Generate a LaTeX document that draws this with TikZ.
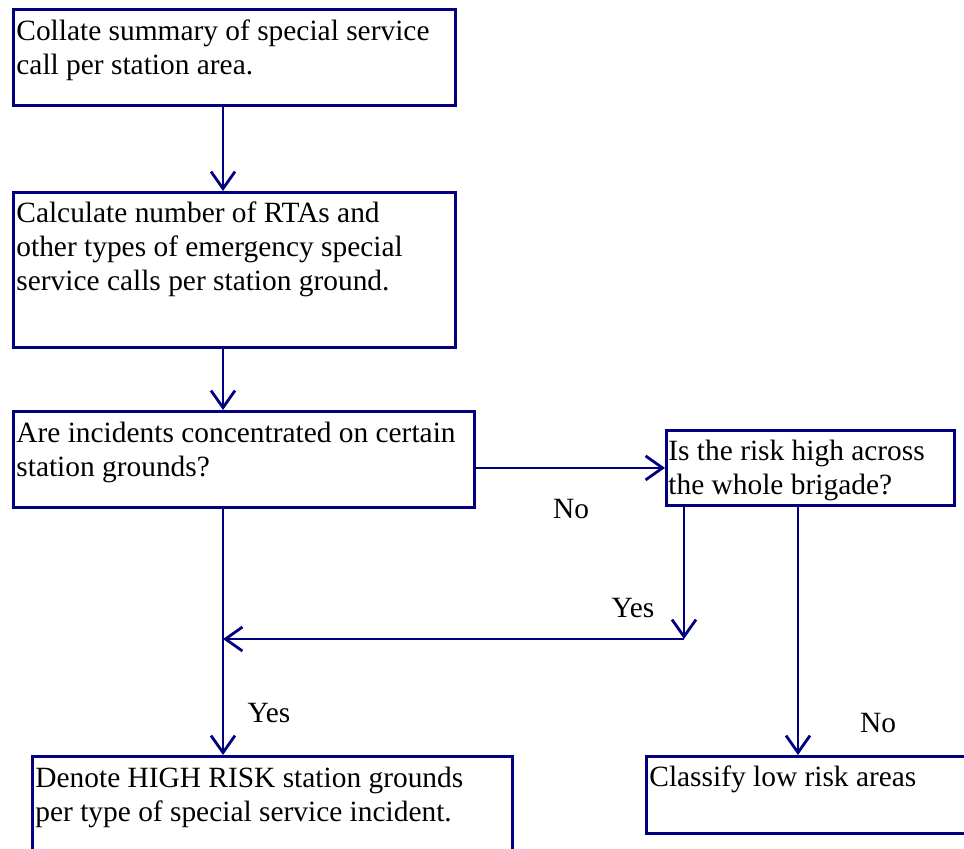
\documentclass[tikz,border=0pt]{standalone}
\usepackage{fontspec}
\setmainfont{Liberation Serif}
\usetikzlibrary{arrows.meta}
\definecolor{flow}{RGB}{0,0,128}
\begin{document}
\begin{tikzpicture}[x=0.5pt,y=-0.5pt,
  box/.style={draw=flow, line width=1.4pt, rectangle, inner sep=0pt, anchor=north west},
  txt/.style={anchor=base west, inner sep=0pt, font=\fontsize{14.7}{17}\selectfont, text=black},
  lbl/.style={anchor=base, inner sep=0pt, font=\fontsize{14.7}{17}\selectfont, text=black},
  arr/.style={draw=flow, line width=1.4pt, -{Straight Barb[length=8.5pt,width=12pt]}}]
\useasboundingbox (0,0) rectangle (964,848);
\clip (0,0) rectangle (964,848);

% process boxes
\node[box, minimum width=221pt, minimum height=48pt]   (b1) at (12,8) {};
\node[box, minimum width=221pt, minimum height=77.5pt] (b2) at (12,191) {};
\node[box, minimum width=230.5pt, minimum height=48pt] (b3) at (12,410) {};
\node[box, minimum width=144pt, minimum height=37.5pt] (b4) at (665,429) {};
\node[box, minimum width=240pt, minimum height=60pt]   (b5) at (31,755) {};
\node[box, minimum width=167.5pt, minimum height=38.5pt] (b6) at (645,755) {};

% box texts
\node[txt] (t1) at ([shift={(4,32)}]b1.north west)
  {\begin{tabular}[t]{@{}l@{}}Collate summary of special service\\call per station area.\end{tabular}};
\node[txt] (t2) at ([shift={(4,31)}]b2.north west)
  {\begin{tabular}[t]{@{}l@{}}Calculate number of RTAs and\\other types of emergency special\\service calls per station ground.\end{tabular}};
\node[txt] (t3) at ([shift={(4,32)}]b3.north west)
  {\begin{tabular}[t]{@{}l@{}}Are incidents concentrated on certain\\station grounds?\end{tabular}};
\node[txt] (t4) at ([shift={(3,31)}]b4.north west)
  {\begin{tabular}[t]{@{}l@{}}Is the risk high across\\the whole brigade?\end{tabular}};
\node[txt] (t5) at ([shift={(4,32)}]b5.north west)
  {\begin{tabular}[t]{@{}l@{}}Denote HIGH RISK station grounds\\per type of special service incident.\end{tabular}};
\node[txt] (t6) at ([shift={(4,31)}]b6.north west)
  {Classify low risk areas};

% connector guide points
\coordinate (spine) at (223,0);
\coordinate (yes) at (684,639);
\coordinate (nocol) at (798,0);

% connectors
\draw[arr] (b1.south -| spine) -- (b2.north -| spine);
\draw[arr] (b2.south -| spine) -- (b3.north -| spine);
\draw[arr] (b3.east |- b4.west) -- (b4.west);
\draw[arr] (b3.south -| spine) -- (b5.north -| spine);
\draw[arr] (b4.south -| yes) -- (yes);
\draw[arr] (yes) -- (yes -| spine);
\draw[arr] (b4.south -| nocol) -- (b6.north -| nocol);

% branch labels
\node[lbl] (no1)  at (571,518) {No};
\node[lbl] (yes1) at (633,617) {Yes};
\node[lbl] (yes2) at (269,722) {Yes};
\node[lbl] (no2)  at (878,732) {No};
\end{tikzpicture}
\end{document}
